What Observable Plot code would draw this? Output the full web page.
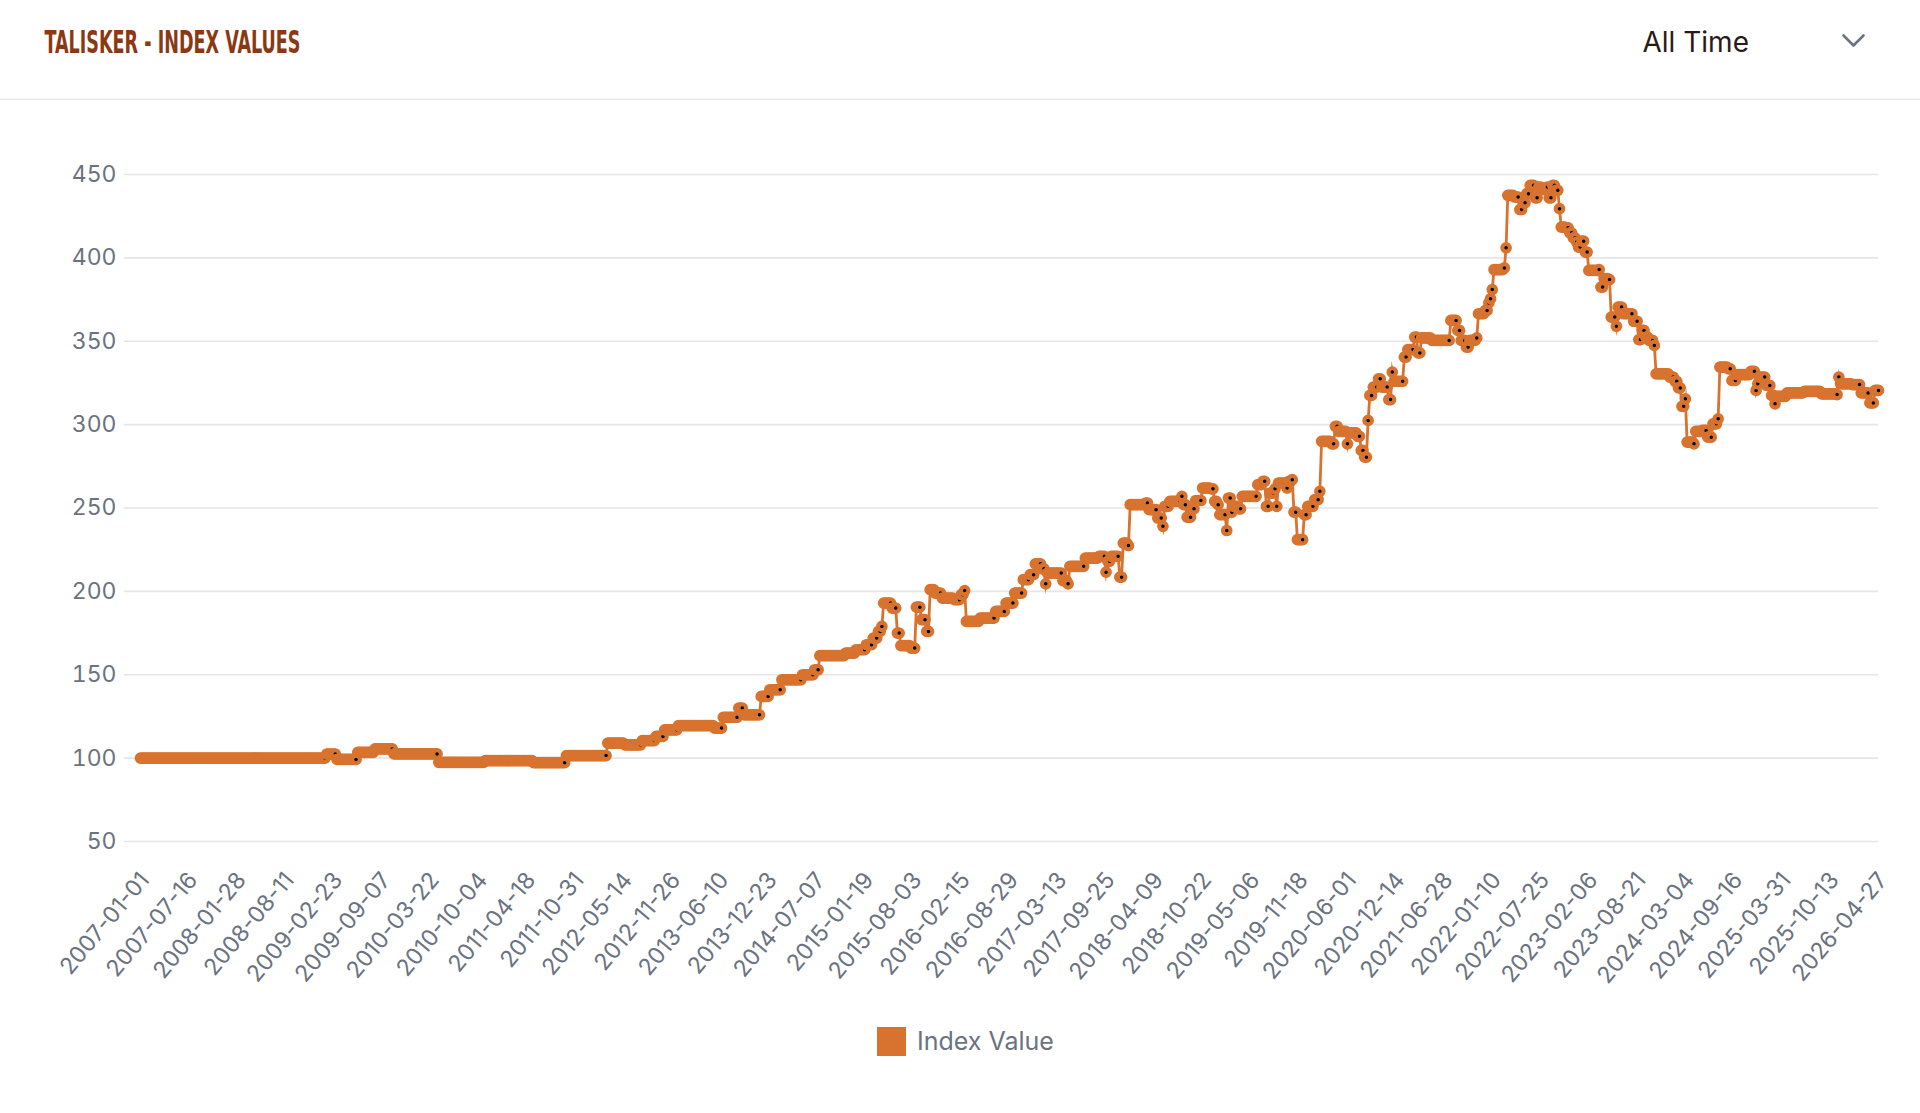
<!DOCTYPE html>
<html>
<head>
<meta charset="utf-8">
<script src="https://cdn.jsdelivr.net/npm/d3@7"></script>
<script src="https://cdn.jsdelivr.net/npm/@observablehq/plot@0.6"></script>
<style>
  html, body { margin: 0; padding: 0; background: #ffffff; }
  body { width: 1920px; height: 1113px; overflow: hidden; position: relative; font-family: Inter, "Liberation Sans", sans-serif; }
  #header { position: absolute; left: 0; top: 0; width: 1920px; height: 100px; }
  #chart { position: absolute; left: 0; top: 100px; }
  #legend { position: absolute; left: 0; top: 1027px; width: 1920px; height: 29px; }
  #legend .sw { position: absolute; left: 877px; top: 0; width: 29px; height: 29px; background: #D8732F; }
  #legend .lb { position: absolute; left: 917px; top: 0; height: 29px; line-height: 29px; font-size: 25px; color: #6b7280; font-family: Inter, sans-serif; }
</style>
</head>
<body>
<div id="header"></div>
<div id="chart"></div>
<div id="legend"><div class="sw"></div><div class="lb"></div></div>
<script>
// ---------------- data ----------------
const titleText = "TALISKER - INDEX VALUES";
const rangeText = "All Time";
const seriesName = "Index Value";
const startDate = "2007-01-01";
const endDate = "2026-04-27";

const yTicks = [50, 100, 150, 200, 250, 300, 350, 400, 450];

const xTickLabels = [
  "2007-01-01","2007-07-16","2008-01-28","2008-08-11","2009-02-23","2009-09-07",
  "2010-03-22","2010-10-04","2011-04-18","2011-10-31","2012-05-14","2012-11-26",
  "2013-06-10","2013-12-23","2014-07-07","2015-01-19","2015-08-03","2016-02-15",
  "2016-08-29","2017-03-13","2017-09-25","2018-04-09","2018-10-22","2019-05-06",
  "2019-11-18","2020-06-01","2020-12-14","2021-06-28","2022-01-10","2022-07-25",
  "2023-02-06","2023-08-21","2024-03-04","2024-09-16","2025-03-31","2025-10-13",
  "2026-04-27"
];

// dates on which the weekly index value changed, and the value held from then on
const changeDates = [
  "2007-01-01","2009-01-26","2009-03-09","2009-06-01","2009-08-10","2009-10-26",
  "2010-04-26","2010-11-01","2011-05-16","2011-09-26","2012-03-12","2012-05-21",
  "2012-07-30","2012-09-24","2012-10-29","2012-12-24","2013-05-20","2013-06-24",
  "2013-08-26","2013-09-16","2013-11-25","2013-12-30","2014-02-17","2014-05-12",
  "2014-06-30","2014-07-21","2014-11-03","2014-12-15","2015-01-26","2015-02-23",
  "2015-03-16","2015-03-30","2015-04-06","2015-05-11","2015-06-01","2015-06-15",
  "2015-07-27","2015-08-17","2015-09-07","2015-09-28","2015-10-12","2015-11-02",
  "2015-11-30","2016-01-18","2016-02-15","2016-02-29","2016-03-07","2016-05-02",
  "2016-07-04","2016-08-15","2016-09-19","2016-10-24","2016-11-21","2016-12-12",
  "2017-01-09","2017-01-23","2017-01-30","2017-04-03","2017-04-24","2017-05-01",
  "2017-07-03","2017-08-28","2017-09-25","2017-10-02","2017-10-16","2017-11-20",
  "2017-12-04","2017-12-25","2018-01-01","2018-03-05","2018-03-19","2018-04-23",
  "2018-05-14","2018-05-21","2018-06-11","2018-07-30","2018-08-06","2018-08-20",
  "2018-09-10","2018-09-24","2018-10-22","2018-11-26","2018-12-10","2018-12-24",
  "2018-12-31","2019-01-28","2019-02-04","2019-02-18","2019-02-25","2019-03-18",
  "2019-04-01","2019-06-03","2019-06-24","2019-07-08","2019-07-22","2019-08-12",
  "2019-08-19","2019-08-26","2019-09-30","2019-10-07","2019-10-21","2019-10-28",
  "2019-11-11","2019-12-09","2019-12-23","2020-01-20","2020-02-10","2020-02-17",
  "2020-03-30","2020-04-13","2020-04-27","2020-06-01","2020-06-08","2020-07-13",
  "2020-07-27","2020-08-10","2020-08-24","2020-08-31","2020-09-14","2020-10-05",
  "2020-10-19","2020-11-16","2020-11-30","2020-12-07","2021-01-18","2021-02-01",
  "2021-03-01","2021-03-15","2021-03-29","2021-05-10","2021-07-26","2021-08-23",
  "2021-09-06","2021-09-27","2021-10-11","2021-11-08","2021-11-15","2021-12-13",
  "2021-12-27","2022-01-03","2022-01-10","2022-01-17","2022-02-28","2022-03-07",
  "2022-03-14","2022-04-11","2022-05-02","2022-05-16","2022-05-30","2022-06-13",
  "2022-07-04","2022-07-18","2022-08-01","2022-08-22","2022-08-29","2022-09-12",
  "2022-09-26","2022-10-10","2022-10-17","2022-11-07","2022-11-21","2022-12-05",
  "2022-12-19","2022-12-26","2023-01-09","2023-01-23","2023-02-06","2023-03-20",
  "2023-03-27","2023-04-10","2023-05-01","2023-05-08","2023-05-29","2023-06-05",
  "2023-06-26","2023-08-07","2023-08-28","2023-09-11","2023-09-25","2023-10-09",
  "2023-10-30","2023-11-06","2024-01-01","2024-01-22","2024-02-05","2024-02-19",
  "2024-03-04","2024-03-11","2024-04-08","2024-04-15","2024-05-13","2024-06-03",
  "2024-06-24","2024-07-15","2024-07-22","2024-08-26","2024-09-09","2024-09-30",
  "2024-11-25","2024-12-16","2024-12-23","2024-12-30","2025-01-27","2025-02-17",
  "2025-03-03","2025-03-10","2025-04-21","2025-06-30","2025-09-08","2025-11-10",
  "2025-11-17","2025-11-24","2026-01-12","2026-02-16","2026-03-23","2026-04-13"
];
const changeValues = [
  100,102.4,99.2,103.5,105.5,102.5,
  97.5,98.5,97.3,101.5,109,108,
  110.5,113,117,119.5,118,124.5,
  130,126,137,141,147,150,
  153,161.5,163,165,168,172,
  176,179,193,190,175,167.5,
  166,190.5,183,176,201,199,
  196,195,198,200.5,182,184,
  188,193,199,207,210,216.5,
  213.5,204.5,211,206.5,204.5,215,
  220,221,211.5,218,221,208.5,
  229,227.5,252,253,249,244,
  239,251,254,257,252,244.5,
  249.5,254.5,262,261.5,254,252,
  246,236.5,256,247.5,251,249.5,
  257,264,266,251,259,261.5,
  251,265,262,266,267,247.5,
  231,246,251,255,260,290,
  288.5,299,296,288.5,295,293,
  284.5,280.5,302.5,317.5,322.5,327.5,
  322.5,315,331.5,326,340.5,345,
  352.5,343,352,350.5,362.5,356.5,
  350.5,346.5,350.5,352,366.5,368.5,
  373,375.5,381,393,394,406,
  437.5,436.5,429,433,438.5,443.5,
  436,442.5,441,442.5,436,443.5,
  440.5,429.5,418.5,418,415,412,
  409.5,406.5,410,403.5,392.5,393,
  382.5,387.5,387,364.5,359,370.5,
  366.5,362,351,356.5,352.5,350.5,
  347.5,330.5,328.5,326,322,311,
  315.5,289.5,288.5,296,296.5,292.5,
  300.5,303.5,334.5,333.5,326.5,330,
  332,320.5,324.5,328.5,323.5,317.5,
  312.5,317,319,320,318.5,318,
  328.5,324.5,324,319,313,320.5
];

// ---------------- build weekly table (value held until next change) ----------------
const WEEK = 7 * 864e5;
const t0 = new Date(startDate), t1 = new Date(endDate);
const nWeeks = Math.round((t1 - t0) / WEEK);
const changeIdx = changeDates.map(d => Math.round((new Date(d) - t0) / WEEK));
const weekly = [];
let j = 0;
for (let w = 0; w <= nWeeks; w++) {
  while (j + 1 < changeIdx.length && changeIdx[j + 1] <= w) j++;
  weekly.push({date: new Date(+t0 + w * WEEK), value: changeValues[j]});
}

const ORANGE = "#D8732F";
const GRAY = "#6b7280";

// ---------------- header ----------------
const NS = "http://www.w3.org/2000/svg";
const hdr = document.createElementNS(NS, "svg");
hdr.setAttribute("width", 1920); hdr.setAttribute("height", 100);
const title = document.createElementNS(NS, "text");
title.setAttribute("x", 44.5); title.setAttribute("y", 52.5);
title.setAttribute("font-family", "'Liberation Sans Narrow', 'DejaVu Sans Condensed', sans-serif");
title.setAttribute("font-weight", "bold");
title.setAttribute("font-size", 31.5);
title.setAttribute("fill", "#8a3912");
title.setAttribute("textLength", 256);
title.setAttribute("lengthAdjust", "spacingAndGlyphs");
title.textContent = titleText;
hdr.appendChild(title);
const range = document.createElementNS(NS, "text");
range.setAttribute("x", 1642.5); range.setAttribute("y", 51.5);
range.setAttribute("font-family", "Inter, sans-serif");
range.setAttribute("font-size", 28);
range.setAttribute("fill", "#2b1b17");
range.textContent = rangeText;
hdr.appendChild(range);
const chev = document.createElementNS(NS, "polyline");
chev.setAttribute("points", "1843.5,35.5 1853.5,45.5 1863.5,35.5");
chev.setAttribute("fill", "none");
chev.setAttribute("stroke", GRAY);
chev.setAttribute("stroke-width", 2.6);
chev.setAttribute("stroke-linecap", "round");
chev.setAttribute("stroke-linejoin", "round");
hdr.appendChild(chev);
const sep = document.createElementNS(NS, "line");
sep.setAttribute("x1", 0); sep.setAttribute("x2", 1920);
sep.setAttribute("y1", 99.5); sep.setAttribute("y2", 99.5);
sep.setAttribute("stroke", "#e3e3e8"); sep.setAttribute("stroke-width", 1.6);
hdr.appendChild(sep);
document.getElementById("header").appendChild(hdr);

// ---------------- chart ----------------
const chart = Plot.plot({
  width: 1920,
  height: 900,
  marginLeft: 140,
  marginRight: 42,
  marginTop: 74,
  marginBottom: 159,
  style: {fontFamily: "Inter, sans-serif", background: "#ffffff", overflow: "visible"},
  x: {type: "utc", domain: [t0, t1], axis: null},
  y: {domain: [50, 450], axis: null},
  marks: [
    Plot.ruleY(yTicks, {stroke: "#e5e5ea", strokeWidth: 1.6, insetLeft: -16}),
    Plot.axisY(yTicks, {tickSize: 0, tickPadding: 24, fontSize: 23, fill: GRAY, label: null}),
    Plot.text(xTickLabels, {
      x: d => new Date(d), text: d => d, frameAnchor: "bottom",
      rotate: -50, textAnchor: "end", dx: 10, dy: 39, fontSize: 23, fill: GRAY
    }),
    Plot.line(weekly, {x: "date", y: "value", stroke: ORANGE, strokeWidth: 2.8,
      strokeLinejoin: "miter", strokeMiterlimit: 10}),
    Plot.dot(weekly, {x: "date", y: "value", r: 3.8, fill: "#000000",
      stroke: ORANGE, strokeWidth: 4.1})
  ]
});
document.getElementById("chart").appendChild(chart);

document.querySelector("#legend .lb").textContent = seriesName;
</script>
</body>
</html>
